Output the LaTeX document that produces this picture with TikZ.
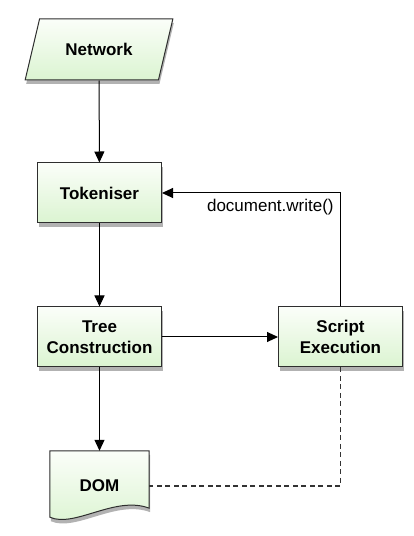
\documentclass[tikz,border=0pt]{standalone}
\usepackage{fontspec}
\setmainfont{Liberation Sans}
\usepackage{tikz}
\usetikzlibrary{shapes,arrows.meta,positioning,calc,shadows,backgrounds}

\definecolor{boxtop}{HTML}{FBFEF9}
\definecolor{boxbot}{HTML}{DBF4D1}
\definecolor{boxedge}{HTML}{2E2E2E}

\begin{document}
\begin{tikzpicture}[x=1pt, y=1pt,
    box/.style={draw=boxedge, line width=1pt, top color=boxtop, bottom color=boxbot,
        drop shadow={shadow xshift=1pt, shadow yshift=-4pt, opacity=0.3, fill=black},
        font=\fontsize{17}{21}\selectfont\bfseries, align=center},
    procbox/.style={box, rectangle, minimum width=124, minimum height=60},
    arr/.style={line width=1pt, -{Triangle[length=11pt, width=10pt]}},
    dashline/.style={line width=1.2pt, draw=black!80, dash pattern=on 5pt off 3.5pt}]
    \useasboundingbox (0,0) rectangle (413,536);

    % Input
    \node[box, trapezium, trapezium left angle=65, trapezium right angle=115,
        trapezium stretches=true, minimum width=148, minimum height=61] (net) at (99,486.5) {Network};

    % Parser stages
    \node[procbox] (tok) at (99.5,343) {Tokeniser};
    \node[procbox] (tree) at (99.5,199) {Tree\\Construction};
    \node[procbox] (script) at (340.5,199) {Script\\Execution};

    % Output document
    \node[minimum width=99, minimum height=70, font=\fontsize{17}{21}\selectfont\bfseries] (dom) at (99.5,50) {DOM};
    \begin{pgfonlayer}{background}
        \draw[box] (dom.north west) -- (dom.north east) -- ($(dom.south east)+(0,13)$)
            .. controls ($(dom.south east)+(-34,26)$) and ($(dom.south west)+(25,-7)$) .. ($(dom.south west)+(0,4)$) -- cycle;
    \end{pgfonlayer}

    % Flow
    \draw[arr] (net) -- (tok);
    \draw[arr] (tok) -- (tree);
    \draw[arr] (tree) -- (script);
    \draw[arr] (tree) -- (dom);
    \draw[arr] (script.north) |- (tok.east)
        node[pos=0.5, below left, xshift=-3pt, yshift=-2pt, font=\fontsize{17}{21}\selectfont] {document.write()};
    \draw[dashline] (script.south) |- (dom.east);
\end{tikzpicture}
\end{document}
